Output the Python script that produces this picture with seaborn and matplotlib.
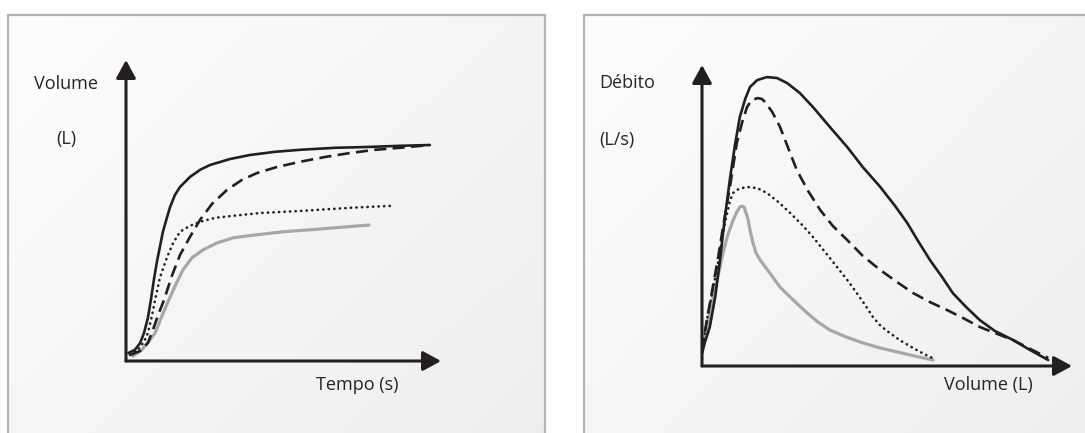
import numpy as np
import matplotlib
matplotlib.use("Agg")
import matplotlib.pyplot as plt
from matplotlib.patches import Rectangle
import seaborn as sns

sns.set_theme(style="white")
plt.rcParams["font.family"] = ["Open Sans", "DejaVu Sans"]

# ---- Volume-time curves (Tempo in s, Volume in L) ----
vt_solid_t = [0.08, 0.3, 0.47, 0.6, 0.73, 0.83, 0.93, 1.03, 1.13, 1.23, 1.37, 1.47, 1.63,
              1.8, 2.13, 2.47, 2.8, 3.47, 4.13, 4.97, 5.8, 6.97, 8.03, 9.13, 10.13]
vt_solid_v = [0.2, 0.28, 0.45, 0.7, 1.08, 1.53, 2.03, 2.48, 2.85, 3.23, 3.6, 3.85, 4.15,
              4.35, 4.6, 4.78, 4.9, 5.05, 5.15, 5.23, 5.28, 5.33, 5.35, 5.38, 5.4]

vt_dash_t = [0.13, 0.47, 0.73, 0.9, 1.07, 1.27, 1.53, 1.8, 2.13, 2.47, 2.87, 3.37, 3.87,
             4.37, 5.03, 5.8, 6.63, 7.47, 8.3, 9.13, 10.13]
vt_dash_v = [0.15, 0.25, 0.45, 0.78, 1.15, 1.53, 2.13, 2.65, 3.1, 3.53, 3.93, 4.28, 4.53,
             4.7, 4.85, 4.98, 5.1, 5.2, 5.28, 5.33, 5.4]

vt_dot_t = [0.13, 0.4, 0.6, 0.73, 0.87, 0.97, 1.13, 1.37, 1.57, 1.8, 2.13, 2.47, 2.97,
            3.57, 4.47, 5.8, 7.47, 8.87]
vt_dot_v = [0.15, 0.28, 0.48, 0.7, 1.15, 1.53, 2.08, 2.6, 2.95, 3.23, 3.38, 3.48, 3.58,
            3.63, 3.7, 3.75, 3.83, 3.88]

vt_gray_t = [0.23, 0.53, 0.8, 0.97, 1.2, 1.43, 1.67, 1.9, 2.2, 2.57, 3.03, 3.57, 4.3,
             5.23, 6.47, 8.1]
vt_gray_v = [0.12, 0.28, 0.53, 0.7, 1.13, 1.53, 1.93, 2.28, 2.58, 2.78, 2.95, 3.08, 3.15,
             3.23, 3.3, 3.4]

# ---- Flow-volume curves (Volume in L, Débito in L/s) ----
fv_solid_x = [0.0, 0.05, 0.13, 0.22, 0.3, 0.38, 0.47, 0.55, 0.63, 0.72, 0.8, 0.92, 1.08,
              1.25, 1.42, 1.63, 1.85, 2.13, 2.42, 2.68, 2.97, 3.22, 3.42, 3.6, 3.8, 4.0,
              4.18, 4.4, 4.63, 4.88, 5.18, 5.47, 5.77]
fv_solid_y = [0.43, 0.8, 1.3, 2.3, 3.53, 4.93, 6.3, 7.37, 8.3, 8.9, 9.3, 9.53, 9.63,
              9.6, 9.43, 9.1, 8.63, 7.97, 7.3, 6.63, 5.97, 5.33, 4.77, 4.17, 3.53, 2.97,
              2.43, 1.97, 1.53, 1.17, 0.87, 0.53, 0.2]

fv_dash_x = [0.0, 0.08, 0.18, 0.27, 0.35, 0.47, 0.58, 0.67, 0.75, 0.83, 0.93, 1.0, 1.05,
             1.17, 1.3, 1.43, 1.58, 1.77, 1.97, 2.18, 2.42, 2.68, 2.97, 3.25, 3.52, 3.8,
             4.08, 4.35, 4.63, 4.92, 5.18, 5.47, 5.77]
fv_dash_y = [0.53, 1.53, 2.63, 3.63, 4.63, 6.03, 7.43, 8.13, 8.63, 8.87, 8.93, 8.9, 8.8,
             8.47, 7.97, 7.3, 6.53, 5.83, 5.2, 4.67, 4.2, 3.67, 3.2, 2.8, 2.43, 2.13,
             1.87, 1.6, 1.3, 1.07, 0.87, 0.57, 0.27]

fv_dot_x = [0.0, 0.08, 0.18, 0.27, 0.33, 0.4, 0.47, 0.52, 0.58, 0.67, 0.75, 0.92, 1.08,
            1.27, 1.47, 1.67, 1.85, 2.05, 2.25, 2.42, 2.58, 2.72, 2.85, 2.98, 3.13, 3.32,
            3.52, 3.7, 3.88]
fv_dot_y = [0.53, 1.53, 2.53, 3.47, 4.2, 4.93, 5.53, 5.77, 5.87, 5.93, 5.97, 5.93, 5.77,
            5.47, 5.1, 4.7, 4.3, 3.8, 3.3, 2.87, 2.43, 2.03, 1.63, 1.33, 1.1, 0.83,
            0.6, 0.4, 0.23]

fv_gray_x = [0.0, 0.08, 0.18, 0.27, 0.35, 0.43, 0.52, 0.58, 0.63, 0.67, 0.7, 0.73, 0.77,
             0.8, 0.85, 0.9, 0.97, 1.13, 1.3, 1.52, 1.75, 1.93, 2.13, 2.4, 2.68, 2.97,
             3.25, 3.55, 3.85]
fv_gray_y = [0.43, 1.3, 2.2, 3.03, 3.77, 4.37, 4.87, 5.13, 5.3, 5.33, 5.3, 5.13, 4.87,
             4.53, 4.1, 3.77, 3.53, 3.1, 2.63, 2.2, 1.77, 1.47, 1.2, 0.97, 0.77, 0.6,
             0.47, 0.33, 0.2]

W, H = 1085, 433
INK = "#231f20"
GRAY = "#a7a7a7"

fig = plt.figure(figsize=(W / 100, H / 100), dpi=100)
fig.patch.set_facecolor("white")


def px_axes(x0, y0, x1, y1, **kw):
    """Axes placed by pixel box (top-left origin)."""
    return fig.add_axes([x0 / W, 1 - y1 / H, (x1 - x0) / W, (y1 - y0) / H], **kw)


def panel(x0, y0, x1, y1):
    ax = px_axes(x0, y0, x1, y1)
    ax.set_axis_off()
    u = np.linspace(0, 1, 200)
    v = np.linspace(0, 1, 200)
    U, V = np.meshgrid(u, v)
    g = 0.992 - 0.06 * (0.55 * U + 0.45 * V)
    ax.imshow(np.dstack([g, g, g]), extent=(0, 1, 0, 1), origin="upper",
              aspect="auto", interpolation="bilinear")
    ax.set_xlim(0, 1)
    ax.set_ylim(0, 1)
    ax.add_patch(Rectangle((0, 0), 1, 1, transform=ax.transAxes, fill=False,
                           edgecolor="#b2b2b2", lw=1.6, clip_on=False))
    return ax


panel(8, 15, 545, 445)
panel(584, 15, 1100, 445)


def arrows(ax):
    style = "-|>,head_length=0.55,head_width=0.3"
    for end in [(1, 0), (0, 1)]:
        ax.annotate("", xy=end, xytext=(0, 0), xycoords="axes fraction",
                    textcoords="axes fraction",
                    arrowprops=dict(arrowstyle=style, mutation_scale=20, lw=2.2,
                                    color=INK, shrinkA=0, shrinkB=0))


def curves(ax, sets):
    for xs, ys, color, ls, lw in sets:
        sns.lineplot(x=xs, y=ys, ax=ax, color=color, lw=lw, sort=False,
                     estimator=None, legend=False)
        line = ax.lines[-1]
        line.set_solid_joinstyle("round")
        line.set_solid_capstyle("round")
        if ls == "dash":
            line.set_dashes([4.6, 2.4])
            line.set_dash_joinstyle("round")
        elif ls == "dot":
            line.set_dashes([0.1, 2.0])
            line.set_dash_capstyle("round")


def plot_area(x0, y0, x1, y1, xmax, ymax):
    ax = px_axes(x0, y0, x1, y1)
    ax.patch.set_alpha(0)
    ax.set_xlim(0, xmax)
    ax.set_ylim(0, ymax)
    for s in ax.spines.values():
        s.set_visible(False)
    ax.set_xticks([])
    ax.set_yticks([])
    return ax


# Left: volume vs time
axL = plot_area(126, 60, 441, 361, 315 / 30, 301 / 40)
curves(axL, [
    (vt_gray_t, vt_gray_v, GRAY, "solid", 2.3),
    (vt_dot_t, vt_dot_v, INK, "dot", 1.9),
    (vt_dash_t, vt_dash_v, INK, "dash", 1.9),
    (vt_solid_t, vt_solid_v, INK, "solid", 1.9),
])
arrows(axL)

# Right: flow vs volume
axR = plot_area(702, 65, 1072, 366, 370 / 60, 301 / 30)
curves(axR, [
    (fv_gray_x, fv_gray_y, GRAY, "solid", 2.3),
    (fv_dot_x, fv_dot_y, INK, "dot", 1.9),
    (fv_dash_x, fv_dash_y, INK, "dash", 1.9),
    (fv_solid_x, fv_solid_y, INK, "solid", 1.9),
])
arrows(axR)


def label(x, y, s, size=13):
    fig.text(x / W, 1 - y / H, s, ha="left", va="center", fontsize=size,
             color="#262626")


label(34, 84, "Volume")
label(56, 139, "(L)")
label(316, 385, "Tempo (s)")
label(599, 83, "Débito")
label(599, 140, "(L/s)")
label(944, 385, "Volume (L)")

fig.savefig("out.png", dpi=100, facecolor="white")
